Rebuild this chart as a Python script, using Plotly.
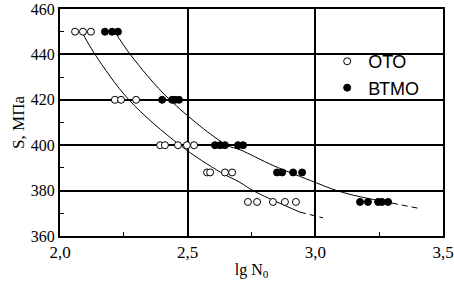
import plotly.graph_objects as go

# ОТО data (open circles)
oto_x = [2.059, 2.090, 2.121,
         2.215, 2.239, 2.298,
         2.392, 2.411, 2.462, 2.497, 2.525,
         2.576, 2.588, 2.646, 2.674,
         2.736, 2.772, 2.834, 2.881, 2.924]
oto_y = [450, 450, 450,
         420, 420, 420,
         400, 400, 400, 400, 400,
         388, 388, 388, 388,
         375, 375, 375, 375, 375]

# ВТМО data (filled circles)
btmo_x = [2.176, 2.204, 2.227,
          2.400, 2.439, 2.450, 2.466,
          2.607, 2.627, 2.646, 2.697, 2.717,
          2.850, 2.870, 2.913, 2.948,
          3.175, 3.206, 3.246, 3.261, 3.285]
btmo_y = [450, 450, 450,
          420, 420, 420, 420,
          400, 400, 400, 400, 400,
          388, 388, 388, 388,
          375, 375, 375, 375, 375]

# fitted curves
oto_fit_x = [2.09, 2.137, 2.27, 2.47, 2.63, 2.705, 2.756, 2.94]
oto_fit_y = [449, 440, 420, 400, 388, 383.6, 380, 370.5]
oto_dash_x = [2.94, 3.03]
oto_dash_y = [370.5, 368]

btmo_fit_x = [2.215, 2.275, 2.43, 2.654, 2.705, 2.836, 3.0, 3.084, 3.175, 3.30]
btmo_fit_y = [450, 440, 420, 400, 398, 391, 383.6, 380, 377.3, 374.5]
btmo_dash_x = [3.30, 3.40]
btmo_dash_y = [374.5, 372.3]

x_ticks = [2.0, 2.5, 3.0, 3.5]
y_ticks = [360, 380, 400, 420, 440, 460]

fig = go.Figure()

line_style = dict(color="black", width=1, shape="spline")
for fx, fy in [(oto_fit_x, oto_fit_y), (btmo_fit_x, btmo_fit_y)]:
    fig.add_trace(go.Scatter(x=fx, y=fy, mode="lines", line=line_style,
                             showlegend=False, hoverinfo="skip"))
for fx, fy in [(oto_dash_x, oto_dash_y), (btmo_dash_x, btmo_dash_y)]:
    fig.add_trace(go.Scatter(x=fx, y=fy, mode="lines",
                             line=dict(color="black", width=1, dash="6px,4px"),
                             showlegend=False, hoverinfo="skip"))

fig.add_trace(go.Scatter(x=oto_x, y=oto_y, mode="markers", name="ОТО",
                         marker=dict(symbol="circle", size=7, color="white",
                                     line=dict(color="black", width=1))))
fig.add_trace(go.Scatter(x=btmo_x, y=btmo_y, mode="markers", name="ВТМО",
                         marker=dict(symbol="circle", size=7, color="black",
                                     line=dict(color="black", width=1))))

serif = "Liberation Serif"
fig.update_layout(
    width=454, height=286,
    margin=dict(l=60, r=11, t=9, b=50, autoexpand=False),
    paper_bgcolor="white", plot_bgcolor="white",
    separators=", ",
    font=dict(family=serif, size=16, color="black"),
    legend=dict(x=0.695, y=0.85, xanchor="left", yanchor="top",
                bgcolor="rgba(0,0,0,0)",
                font=dict(family="Liberation Sans", size=18),
                itemwidth=32, tracegroupgap=0),
)
fig.update_xaxes(
    range=[2.0, 3.5], tickvals=x_ticks, tickformat=".1f",
    tickfont=dict(family=serif, size=17), ticklabeloverflow="allow",
    showgrid=True, gridcolor="black", gridwidth=1.5,
    showline=True, linecolor="black", linewidth=2, mirror=True,
    ticks="inside", ticklen=4, tickcolor="black",
    minor=dict(dtick=0.25, tick0=2.0, ticks="inside", ticklen=4,
               tickcolor="black", showgrid=False),
    title=dict(text="lg N<sub>0</sub>", standoff=2,
               font=dict(family=serif, size=16)),
    zeroline=False, automargin=False,
)
fig.update_yaxes(
    range=[360, 460], tickvals=y_ticks,
    tickfont=dict(family=serif, size=16), ticklabeloverflow="allow",
    showgrid=True, gridcolor="black", gridwidth=1.5,
    showline=True, linecolor="black", linewidth=2, mirror=True,
    ticks="inside", ticklen=4, tickcolor="black",
    minor=dict(dtick=10, tick0=360, ticks="inside", ticklen=4,
               tickcolor="black", showgrid=False),
    title=dict(text="S, МПа", standoff=2,
               font=dict(family=serif, size=17)),
    zeroline=False, automargin=False,
)

fig.write_html("out.html", config={"displayModeBar": False},
               post_script="document.body.style.margin='0';")
